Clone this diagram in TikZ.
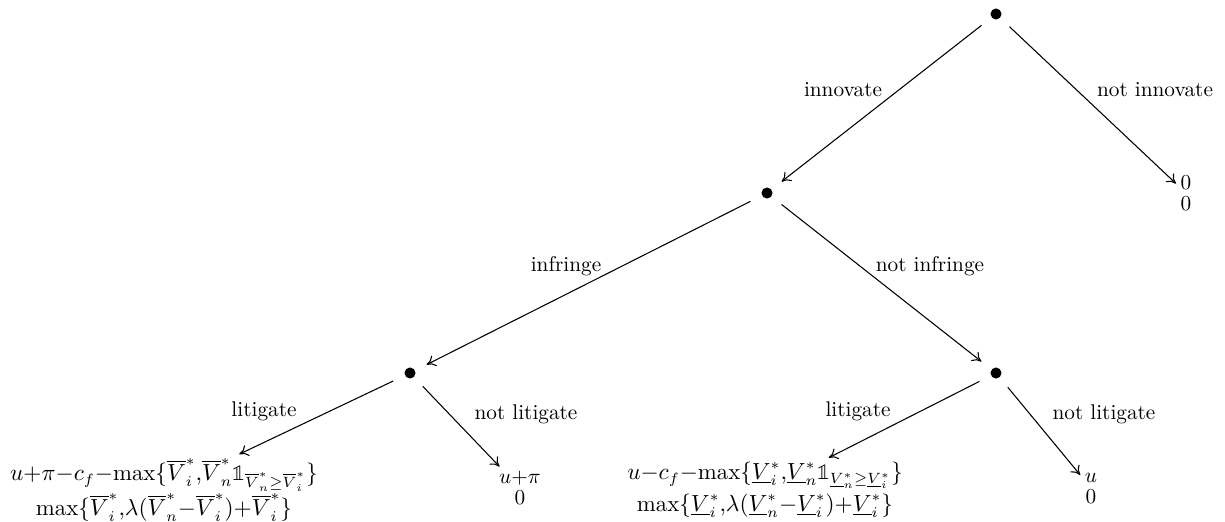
\documentclass[tikz,border=0pt]{standalone}
\usepackage{fontspec}
\usetikzlibrary{arrows.meta}
\newfontfamily\lmmfont{Latin Modern Math}
\newcommand{\indic}{\mathord{\mbox{\lmmfont\symbol{"1D7D9}}}}
\newcommand{\Vo}[1]{\overline{V}^*_{#1}}
\newcommand{\Vu}[1]{\underline{V}^*_{#1}}
\begin{document}
\begin{tikzpicture}[x=0.47pt,y=-0.47pt,
  dotn/.style={circle, minimum size=17pt, inner sep=0pt},
  arr/.style={-{To[length=4.2pt,width=5.5pt]}, line width=0.5pt},
  lbl/.style={inner sep=0pt},
  pay/.style={align=center, inner sep=2pt, execute at begin node={\medmuskip=0mu\thinmuskip=0mu}},
  bigpay/.style={pay, font=\fontsize{10.7pt}{15pt}\selectfont}]
\useasboundingbox (0,0) rectangle (1225,521);
% decision nodes
\node[dotn] (r) at (996,14) {};
\node[dotn] (a) at (767,193) {};
\node[dotn] (b) at (410,373) {};
\node[dotn] (c) at (996,373) {};
\foreach \n in {r,a,b,c} \fill (\n.center) circle (2.6pt);
% terminal payoffs
\node[pay] (t0) at (1186,193) {$0$\\[-2.1pt]$0$};
\node[bigpay] (t1) at (164,490) {$u+\pi-c_f-\max\{\Vo{i},\Vo{n}\indic_{\Vo{n}\geq\Vo{i}}\}$\\$\max\{\Vo{i},\lambda(\Vo{n}-\Vo{i})+\Vo{i}\}$};
\node[pay] (t2) at (520,488) {$u+\pi$\\[-2.1pt]$0$};
\node[bigpay] (t3) at (765,490) {$u-c_f-\max\{\Vu{i},\Vu{n}\indic_{\Vu{n}\geq\Vu{i}}\}$\\$\max\{\Vu{i},\lambda(\Vu{n}-\Vu{i})+\Vu{i}\}$};
\node[pay] (t4) at (1091,488) {$u$\\[-2.1pt]$0$};
% connectors
\draw[arr] (r) -- (a);
\draw[arr] (r) -- (t0);
\draw[arr] (a) -- (b);
\draw[arr] (a) -- (c);
\draw[arr] (b) -- (t1);
\draw[arr] (b) -- (t2);
\draw[arr] (c) -- (t3);
\draw[arr] (c) -- (t4);
% labels
\node[lbl] (l1) at (843,90) {innovate};
\node[lbl] (l2) at (1155,90) {not innovate};
\node[lbl] (l3) at (566,266) {infringe};
\node[lbl] (l4) at (930,266) {not infringe};
\node[lbl] (l5) at (264,411) {litigate};
\node[lbl] (l6) at (526,414) {not litigate};
\node[lbl] (l7) at (858,411) {litigate};
\node[lbl] (l8) at (1104,414) {not litigate};
\end{tikzpicture}
\end{document}
